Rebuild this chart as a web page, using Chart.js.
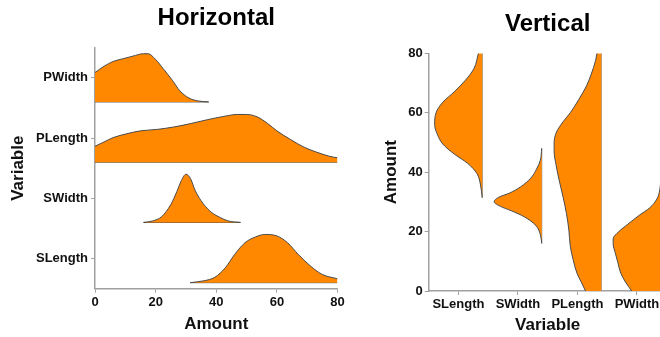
<!DOCTYPE html>
<html>
<head>
<meta charset="utf-8">
<script src="https://cdn.jsdelivr.net/npm/chart.js@4.4.0/dist/chart.umd.min.js"></script>
<style>
  html, body { margin: 0; padding: 0; width: 660px; height: 337px; overflow: hidden; background: #fff; }
  #left { position: absolute; left: 0; top: 0; }
  #right { position: absolute; left: 372px; top: 0; }
</style>
</head>
<body>
<canvas id="left" width="350" height="337"></canvas>
<canvas id="right" width="300" height="337"></canvas>
<script>
"use strict";

// categories, bottom to top (horizontal) / left to right (vertical)
var variables = ['SLength', 'SWidth', 'PLength', 'PWidth'];

// amount values where the curve was read, and the density there (peak = 1)
var slengthAmount  = [31.4, 36, 39.5, 43, 46, 49.5, 53, 56, 60, 63.5, 67, 71, 75, 80];
var slengthDensity = [0, 0.04, 0.11, 0.31, 0.58, 0.83, 0.95, 1.0, 0.97, 0.83, 0.59, 0.35, 0.17, 0.08];

var swidthAmount  = [16, 19, 22, 25, 27, 28.5, 30, 31.5, 33, 35, 38, 41, 44, 48];
var swidthDensity = [0, 0.03, 0.12, 0.37, 0.64, 0.87, 1.0, 0.91, 0.67, 0.45, 0.23, 0.11, 0.03, 0];

var plengthAmount  = [0, 3, 6, 10.5, 15, 20.5, 26, 31.5, 37, 42.5, 47, 50, 53.5, 57, 60, 64.5, 69, 73, 77.5, 80];
var plengthDensity = [0.33, 0.42, 0.51, 0.59, 0.65, 0.68, 0.73, 0.80, 0.88, 0.95, 0.99, 0.99, 0.94, 0.80, 0.65, 0.47, 0.31, 0.21, 0.12, 0.09];

var pwidthAmount  = [0, 3, 6, 9.5, 12.5, 16, 17.5, 20, 22.5, 25.5, 28, 31, 34, 37.5];
var pwidthDensity = [0.61, 0.74, 0.84, 0.90, 0.95, 1.0, 1.0, 0.88, 0.69, 0.45, 0.23, 0.08, 0.02, 0];

var amountTicks = [0, 20, 40, 60, 80];

var amounts = [slengthAmount, swidthAmount, plengthAmount, pwidthAmount];
var densities = [slengthDensity, swidthDensity, plengthDensity, pwidthDensity];

var orange = '#FF8800';
var edge = '#4a4a4a';
var axisGrey = '#a0a0a0';
var ridgeHeight = 0.8;

Chart.defaults.font.family = '"Liberation Sans", Arial, sans-serif';
Chart.defaults.font.weight = 'bold';
Chart.defaults.color = '#111';

// half violins, one per variable
function ridgeDatasets(vertical) {
  var sets = [];
  variables.forEach(function (name, i) {
    var base = vertical ? i + 0.4 : i - 0.4;
    var sign = vertical ? -1 : 1;
    var pts = amounts[i].map(function (a, k) {
      var v = base + sign * ridgeHeight * densities[i][k];
      return vertical ? { x: v, y: a } : { x: a, y: v };
    });
    sets.push({
      label: name,
      data: pts,
      fill: { value: base },
      backgroundColor: orange,
      borderColor: edge,
      borderWidth: 1,
      pointRadius: 0,
      cubicInterpolationMode: 'monotone'
    });
    // flat side
    var first = amounts[i][0];
    var last = amounts[i][amounts[i].length - 1];
    sets.push({
      label: name + ' base',
      data: vertical ? [{ x: base, y: first }, { x: base, y: last }] : [{ x: first, y: base }, { x: last, y: base }],
      fill: false,
      borderColor: vertical ? '#888' : edge,
      borderWidth: 1,
      pointRadius: 0
    });
  });
  return sets;
}

function categoryTicks(axis) {
  axis.ticks = variables.map(function (v, i) { return { value: i }; });
}

function amountTickList(axis) {
  axis.ticks = amountTicks.map(function (v) { return { value: v }; });
}

function axisOpts(extra) {
  var o = {
    type: 'linear',
    grid: { display: true, drawOnChartArea: false, tickLength: 4, color: axisGrey, tickColor: axisGrey },
    border: { display: true, color: axisGrey, width: 1.5 },
    ticks: { font: { size: 13, weight: 'bold' }, color: '#111', padding: 2 }
  };
  return Object.assign(o, extra);
}

var titleFont = { size: 24, weight: 'bold' };
var axisTitleFont = { size: 17, weight: 'bold' };

new Chart(document.getElementById('left'), {
  type: 'line',
  data: { datasets: ridgeDatasets(false) },
  options: {
    responsive: false,
    animation: false,
    layout: { padding: { left: 0, right: 12.5, top: 0, bottom: 0 } },
    plugins: {
      legend: { display: false },
      tooltip: { enabled: false },
      title: { display: true, text: 'Horizontal', fullSize: false, font: titleFont, color: '#000', padding: { top: 4.1, bottom: 14.8 } }
    },
    scales: {
      x: axisOpts({
        min: 0, max: 80,
        afterBuildTicks: amountTickList,
        title: { display: true, text: 'Amount', font: axisTitleFont, color: '#111', padding: { top: 0, bottom: 2.8 } },
        afterFit: function (s) { s.height = 48.3; }
      }),
      y: axisOpts({
        min: -0.5, max: 3.5,
        afterBuildTicks: categoryTicks,
        ticks: { font: { size: 13, weight: 'bold' }, color: '#111', padding: 3, callback: function (v) { return variables[v]; } },
        title: { display: true, text: 'Variable', font: axisTitleFont, color: '#111', padding: { top: 7.8, bottom: 0 } },
        afterFit: function (s) { s.width = 95; }
      })
    }
  }
});

new Chart(document.getElementById('right'), {
  type: 'line',
  data: { datasets: ridgeDatasets(true) },
  options: {
    responsive: false,
    animation: false,
    indexAxis: 'y',
    layout: { padding: { left: 0, right: 5.3, top: 0, bottom: 0 } },
    plugins: {
      legend: { display: false },
      tooltip: { enabled: false },
      title: { display: true, text: 'Vertical', fullSize: false, font: titleFont, color: '#000', padding: { top: 9.6, bottom: 14.9 } }
    },
    scales: {
      x: axisOpts({
        min: -0.5, max: 3.5,
        afterBuildTicks: categoryTicks,
        ticks: { font: { size: 13, weight: 'bold' }, color: '#111', padding: 2, autoSkip: false, maxRotation: 0, callback: function (v) { return variables[v]; } },
        title: { display: true, text: 'Variable', font: axisTitleFont, color: '#111', padding: { top: 0, bottom: 1.8 } },
        afterFit: function (s) { s.height = 46; }
      }),
      y: axisOpts({
        min: 0, max: 80,
        afterBuildTicks: amountTickList,
        title: { display: true, text: 'Amount', font: axisTitleFont, color: '#111', padding: { top: 8.8, bottom: 0 } },
        afterFit: function (s) { s.width = 56.7; }
      })
    }
  }
});
</script>
</body>
</html>
